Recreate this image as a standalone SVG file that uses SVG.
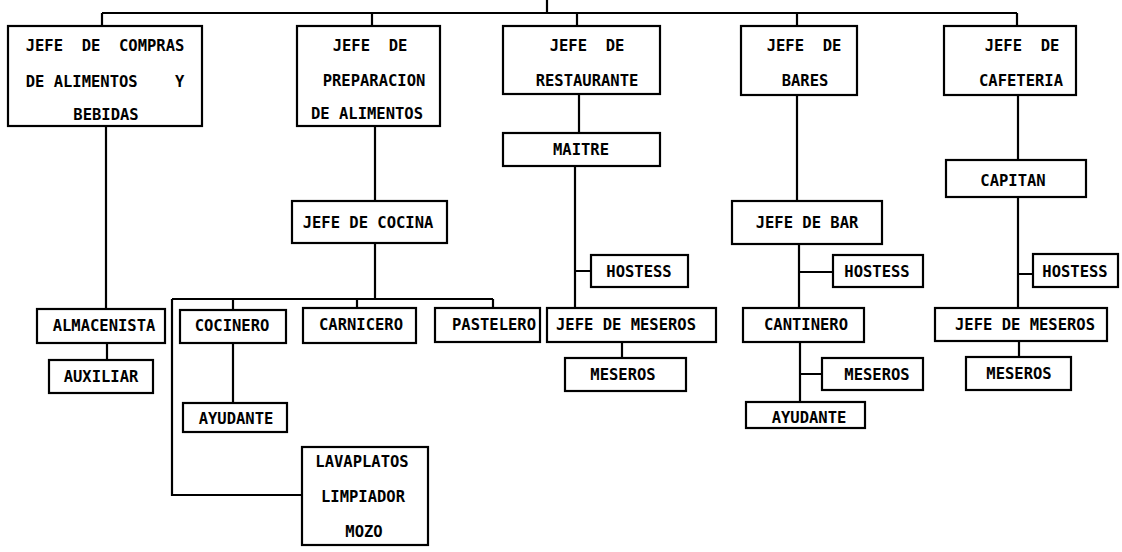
<svg xmlns="http://www.w3.org/2000/svg" width="1122" height="552" viewBox="0 0 1122 552" xml:space="preserve">
<style>
.b{fill:#fff;stroke:#000;stroke-width:2.2}
.c{fill:none;stroke:#000;stroke-width:2.2}
text{font-family:"DejaVu Sans Mono","Liberation Mono",monospace;font-weight:bold;font-size:15.5px;fill:#000;text-anchor:middle;white-space:pre}
</style>
<rect width="1122" height="552" fill="#fff"/>
<g id="connectors">
<path class="c" d="M547 0V13M102 13H1017M102 13V26M372 13V26M577 13V26M797 13V26M1017 13V26"/>
<path class="c" d="M106 126V309M107 343V360"/>
<path class="c" d="M375 126V201M375 243V299M172 299H493M233 299V310M357 299V308M493 299V308M172 299V495H302M233 343V403"/>
<path class="c" d="M579 94V133M575 166V308M575 271H591M622 342V358"/>
<path class="c" d="M797 95V202M799 244V308M799 272H833M800 342V402M800 374H822"/>
<path class="c" d="M1018 95V160M1018 197V308M1018 274H1033M1019 341V357"/>
</g>
<g id="jefe-compras"><rect class="b" x="8" y="26" width="194" height="100"/><text x="105" y="51">JEFE  DE  COMPRAS</text><text x="105" y="87">DE ALIMENTOS    Y</text><text x="106" y="120">BEBIDAS</text></g>
<g id="jefe-preparacion"><rect class="b" x="297" y="26" width="143" height="100"/><text x="370" y="51">JEFE  DE</text><text x="374" y="86">PREPARACION</text><text x="367" y="119">DE ALIMENTOS</text></g>
<g id="jefe-restaurante"><rect class="b" x="503" y="26" width="157" height="68"/><text x="587" y="51">JEFE  DE</text><text x="587" y="86">RESTAURANTE</text></g>
<g id="jefe-bares"><rect class="b" x="741" y="26" width="116" height="69"/><text x="804" y="51">JEFE  DE</text><text x="805" y="86">BARES</text></g>
<g id="jefe-cafeteria"><rect class="b" x="944" y="26" width="132" height="69"/><text x="1022" y="51">JEFE  DE</text><text x="1021" y="86">CAFETERIA</text></g>
<g id="maitre"><rect class="b" x="503" y="133" width="157" height="33"/><text x="581" y="155">MAITRE</text></g>
<g id="capitan"><rect class="b" x="946" y="160" width="140" height="37"/><text x="1013" y="186">CAPITAN</text></g>
<g id="jefe-cocina"><rect class="b" x="292" y="201" width="155" height="42"/><text x="368" y="228">JEFE DE COCINA</text></g>
<g id="jefe-bar"><rect class="b" x="732" y="201" width="150" height="43"/><text x="807" y="228">JEFE DE BAR</text></g>
<g id="hostess-restaurante"><rect class="b" x="591" y="255" width="97" height="32"/><text x="639" y="277">HOSTESS</text></g>
<g id="hostess-bar"><rect class="b" x="833" y="255" width="90" height="32"/><text x="877" y="277">HOSTESS</text></g>
<g id="hostess-cafeteria"><rect class="b" x="1033" y="254" width="85" height="33"/><text x="1075" y="277">HOSTESS</text></g>
<g id="almacenista"><rect class="b" x="37" y="309" width="128" height="34"/><text x="104" y="331">ALMACENISTA</text></g>
<g id="cocinero"><rect class="b" x="180" y="310" width="106" height="33"/><text x="232" y="331">COCINERO</text></g>
<g id="carnicero"><rect class="b" x="303" y="308" width="113" height="35"/><text x="361" y="330">CARNICERO</text></g>
<g id="pastelero"><rect class="b" x="435" y="308" width="105" height="34"/><text x="494" y="330">PASTELERO</text></g>
<g id="jefe-meseros-restaurante"><rect class="b" x="547" y="308" width="169" height="34"/><text x="626" y="330">JEFE DE MESEROS</text></g>
<g id="cantinero"><rect class="b" x="743" y="308" width="121" height="34"/><text x="806" y="330">CANTINERO</text></g>
<g id="jefe-meseros-cafeteria"><rect class="b" x="935" y="308" width="172" height="33"/><text x="1025" y="330">JEFE DE MESEROS</text></g>
<g id="auxiliar"><rect class="b" x="49" y="360" width="104" height="33"/><text x="101" y="382">AUXILIAR</text></g>
<g id="meseros-restaurante"><rect class="b" x="565" y="358" width="121" height="33"/><text x="623" y="380">MESEROS</text></g>
<g id="meseros-bar"><rect class="b" x="822" y="358" width="101" height="32"/><text x="877" y="380">MESEROS</text></g>
<g id="meseros-cafeteria"><rect class="b" x="966" y="357" width="105" height="33"/><text x="1019" y="379">MESEROS</text></g>
<g id="ayudante-cocina"><rect class="b" x="183" y="403" width="104" height="29"/><text x="236" y="424">AYUDANTE</text></g>
<g id="ayudante-bar"><rect class="b" x="746" y="402" width="119" height="26"/><text x="809" y="423">AYUDANTE</text></g>
<g id="lavaplatos"><rect class="b" x="302" y="447" width="126" height="98"/><text x="362" y="467">LAVAPLATOS</text><text x="363" y="502">LIMPIADOR</text><text x="364" y="537">MOZO</text></g>
</svg>
